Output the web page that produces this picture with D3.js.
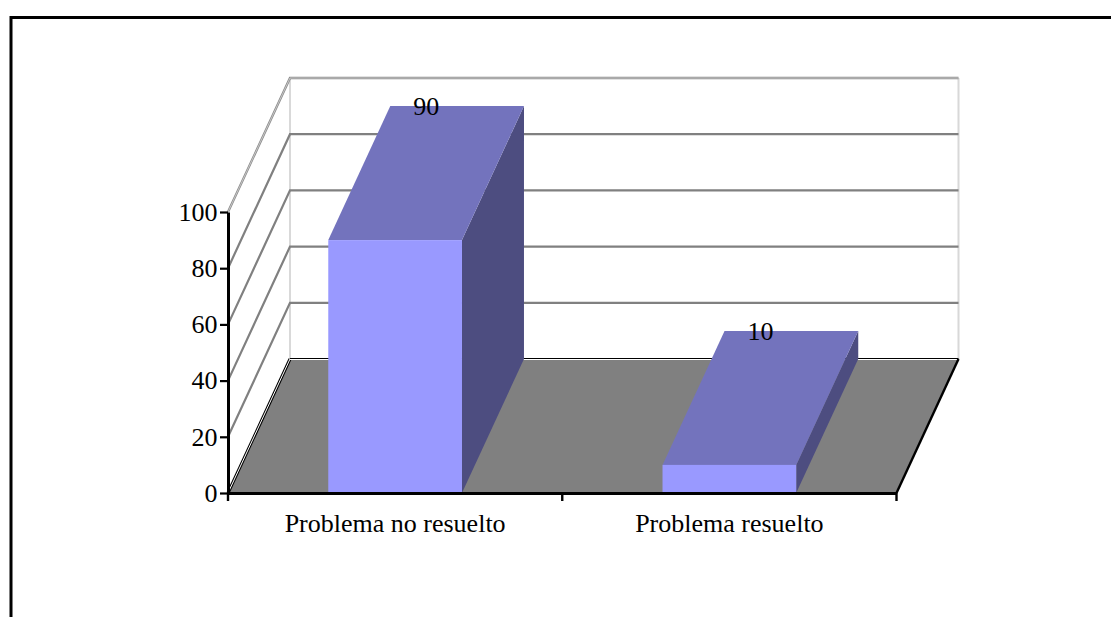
<!DOCTYPE html>
<html><head><meta charset="utf-8">
<script src="https://cdn.jsdelivr.net/npm/d3@7"></script>
<style>html,body{margin:0;padding:0;background:#fff;overflow:hidden}svg{display:block}text{font-family:"Liberation Serif",serif;fill:#000}</style>
</head><body>
<script>
const categories = ["Problema no resuelto", "Problema resuelto"];
const values = [90, 10];
const yTicks = [0, 20, 40, 60, 80, 100];

const W = 1111, H = 617;
const y = d3.scaleLinear().domain([0, 100]).range([493, 212]);
const x = d3.scaleBand().domain(categories).range([228, 896.5]);
const barWidth = x.bandwidth() * 0.4;
// Oblique projection: how far the back of the chart shifts from the front
const dx = 62, dy = -134;

const svg = d3.select("body").append("svg").attr("width", W).attr("height", H);

// Outer frame, open at the bottom and right
svg.append("path").attr("d", "M11,617V17.5H1111").attr("fill", "none").attr("stroke", "#000").attr("stroke-width", 3);

const poly = pts => "M" + pts.map(p => p.join(",")).join("L") + "Z";
const x0 = x.range()[0], x1 = x.range()[1], y0 = y(0);

// Back wall vertical edges
svg.append("path").attr("d", `M${x0+dx},${y0+dy}V${y(100)+dy}`).attr("stroke", "#c0c0c0").attr("stroke-width", 1.2).attr("fill", "none");
svg.append("path").attr("d", `M${x1+dx},${y0+dy}V${y(100)+dy}`).attr("stroke", "#d8d8d8").attr("stroke-width", 2).attr("fill", "none");

// Gridlines across the side wall and back wall
svg.append("g").selectAll("path").data(yTicks.slice(1, -1)).join("path")
  .attr("d", d => `M${x0},${y(d)}L${x0+dx},${y(d)+dy}L${x1+dx},${y(d)+dy}`)
  .attr("fill", "none").attr("stroke", "#808080").attr("stroke-width", 2.2);
// The top gridline is a paler double stroke
const topLine = `M${x0},${y(100)}L${x0+dx},${y(100)+dy}L${x1+dx},${y(100)+dy}`;
svg.append("path").attr("d", topLine).attr("fill", "none").attr("stroke", "#8c8c8c").attr("stroke-width", 2.4);
svg.append("path").attr("d", topLine).attr("fill", "none").attr("stroke", "#e0e0e0").attr("stroke-width", 0.7);

// Floor: black and white double outline on the left and back, solid on the right
svg.append("path").attr("d", poly([[x0,y0],[x0+dx,y0+dy],[x1+dx,y0+dy],[x1,y0]])).attr("fill", "#808080");
const floorLeft = `M${x0},${y0}L${x0+dx},${y0+dy}`;
svg.append("path").attr("d", floorLeft).attr("fill", "none").attr("stroke", "#000").attr("stroke-width", 3);
svg.append("path").attr("d", floorLeft).attr("fill", "none").attr("stroke", "#fff").attr("stroke-width", 1);
svg.append("line").attr("x1", x0 + dx).attr("x2", x1 + dx).attr("y1", y0 + dy - 0.5).attr("y2", y0 + dy - 0.5).attr("stroke", "#000").attr("stroke-width", 1);
svg.append("line").attr("x1", x0 + dx).attr("x2", x1 + dx).attr("y1", y0 + dy + 0.5).attr("y2", y0 + dy + 0.5).attr("stroke", "#fff").attr("stroke-width", 1);
svg.append("path").attr("d", `M${x1+dx},${y0+dy}L${x1},${y0}`).attr("fill", "none").attr("stroke", "#000").attr("stroke-width", 2.4);

// Bars: side face, top face, front face
const bars = svg.append("g").selectAll("g").data(categories.map((c, i) => ({c, v: values[i]}))).join("g");
const left = d => x(d.c) + (x.bandwidth() - barWidth) / 2;
bars.append("path").attr("fill", "#4d4d80").attr("d", d => { const l = left(d) + barWidth; return poly([[l,y0],[l+dx,y0+dy],[l+dx,y(d.v)+dy],[l,y(d.v)]]); });
bars.append("path").attr("fill", "#7373bd").attr("d", d => { const l = left(d); return poly([[l,y(d.v)],[l+dx,y(d.v)+dy],[l+barWidth+dx,y(d.v)+dy],[l+barWidth,y(d.v)]]); });
bars.append("rect").attr("fill", "#9999ff").attr("x", left).attr("y", d => y(d.v)).attr("width", barWidth).attr("height", d => y0 - y(d.v));
bars.append("text").attr("text-anchor", "middle").attr("font-size", 26)
  .attr("x", d => left(d) + barWidth / 2 + dx / 2).attr("y", d => y(d.v) + dy + 9).text(d => d.v);

// Axes
const axisY = d3.axisLeft(y).tickValues(yTicks).tickSize(8).tickSizeOuter(0);
const gy = svg.append("g").attr("transform", `translate(${x0},0)`).call(axisY);
gy.select(".domain").attr("stroke", "#000").attr("stroke-width", 3);
gy.selectAll(".tick line").attr("stroke", "#000").attr("stroke-width", 2.2);
gy.selectAll(".tick text").attr("font-size", 26).attr("x", -10.5).attr("dy", "0.32em");

const axisX = d3.axisBottom(x).tickSize(0).tickSizeOuter(0);
const gx = svg.append("g").attr("transform", `translate(0,${y0})`).call(axisX);
gx.select(".domain").attr("stroke", "#000").attr("stroke-width", 3);
gx.selectAll(".tick text").attr("font-size", 26).attr("y", 39).attr("dy", 0);
svg.append("g").selectAll("line").data([x0, x0 + x.step(), x1]).join("line")
  .attr("x1", d => d).attr("x2", d => d).attr("y1", y0).attr("y2", y0 + 8)
  .attr("stroke", "#000").attr("stroke-width", 2.4);
</script>
</body></html>
